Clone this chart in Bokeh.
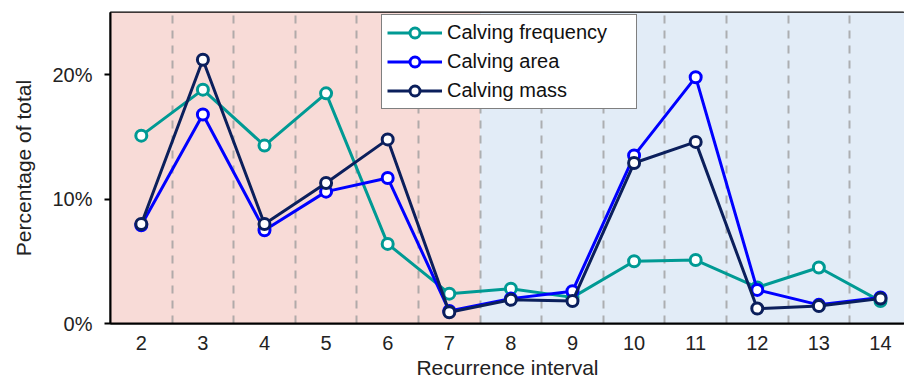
from bokeh.plotting import figure
from bokeh.models import (BoxAnnotation, FixedTicker, PrintfTickFormatter, Legend,
                          LegendItem, Range1d, ColumnDataSource)
from bokeh.embed import file_html
from bokeh.resources import INLINE

intervals = [2, 3, 4, 5, 6, 7, 8, 9, 10, 11, 12, 13, 14]
freq = [15.1, 18.8, 14.3, 18.5, 6.4, 2.4, 2.8, 2.1, 5.0, 5.1, 2.9, 4.5, 1.8]
area = [7.9, 16.8, 7.5, 10.6, 11.7, 1.0, 2.0, 2.6, 13.5, 19.8, 2.7, 1.5, 2.1]
mass = [8.0, 21.2, 8.0, 11.3, 14.8, 0.9, 1.9, 1.8, 12.9, 14.6, 1.2, 1.4, 2.0]
y_ticks = [0, 10, 20]
grid_ticks = [2.5, 3.5, 4.5, 5.5, 6.5, 7.5, 8.5, 9.5, 10.5, 11.5, 12.5, 13.5]
split = 7.5

FONT = "Liberation Sans"

p = figure(width=904, height=385, output_backend="svg", toolbar_location=None,
           x_range=Range1d(1.5, 14.39), y_range=Range1d(0, 25),
           min_border_left=110, min_border_right=0, min_border_top=12,
           min_border_bottom=62)

p.background_fill_color = "white"
p.border_fill_color = "white"
p.outline_line_color = "black"
p.outline_line_width = 2
p.outline_line_alpha = 1

p.add_layout(BoxAnnotation(left=1.5, right=split, fill_color="#f8dbd7",
                           fill_alpha=1, line_alpha=0, level="image"))
p.add_layout(BoxAnnotation(left=split, fill_color="#e2ecf7",
                           fill_alpha=1, line_alpha=0, level="image"))

p.ygrid.grid_line_color = None
p.xgrid.ticker = FixedTicker(ticks=grid_ticks)
p.xgrid.grid_line_color = "#999999"
p.xgrid.grid_line_alpha = 0.75
p.xgrid.grid_line_width = 2
p.xgrid.grid_line_dash = "8 7"

p.xaxis.ticker = FixedTicker(ticks=intervals)
p.yaxis.ticker = FixedTicker(ticks=y_ticks)
p.yaxis.formatter = PrintfTickFormatter(format="%d%%")

for ax in (p.xaxis[0], p.yaxis[0]):
    ax.axis_line_color = "black"
    ax.axis_line_width = 2
    ax.major_tick_line_color = "black"
    ax.major_tick_line_width = 2
    ax.minor_tick_line_color = None
    ax.major_label_text_font = FONT
    ax.major_label_text_font_size = "20px"
    ax.major_label_text_color = "#222222"
    ax.axis_label_text_font = FONT
    ax.axis_label_text_font_size = "21px"
    ax.axis_label_text_font_style = "normal"
    ax.axis_label_text_color = "#222222"

p.xaxis.major_tick_out = 0
p.xaxis.major_tick_in = 0
p.xaxis.major_label_standoff = 12
p.xaxis.axis_label = "Recurrence interval"
p.xaxis.axis_label_standoff = 3

p.yaxis.major_tick_out = 6
p.yaxis.major_tick_in = 0
p.yaxis.major_label_standoff = 12
p.yaxis.axis_label = "Percentage of total"
p.yaxis.axis_label_standoff = 14

src = ColumnDataSource(dict(x=intervals, freq=freq, area=area, mass=mass))

series = [("freq", "Calving frequency", "#009a94"),
          ("area", "Calving area", "#0000ff"),
          ("mass", "Calving mass", "#0b1f5c")]

items = []
for col, label, color in series:
    ln = p.line("x", col, source=src, line_color=color, line_width=3)
    sc = p.scatter("x", col, source=src, size=11, marker="circle",
                   fill_color="white", line_color=color, line_width=3)
    items.append(LegendItem(label=label, renderers=[ln, sc]))

legend = Legend(items=items, location=(271, 214))
legend.label_text_font = FONT
legend.label_text_font_size = "20px"
legend.label_text_color = "#111111"
legend.glyph_width = 55
legend.glyph_height = 25
legend.label_height = 25
legend.label_width = 184
legend.label_standoff = 5
legend.spacing = 4
legend.padding = 5
legend.margin = 0
legend.border_line_color = "black"
legend.border_line_width = 1.5
legend.background_fill_color = "white"
legend.background_fill_alpha = 1
p.add_layout(legend, "center")

open("out.html", "w").write(file_html(p, INLINE))
